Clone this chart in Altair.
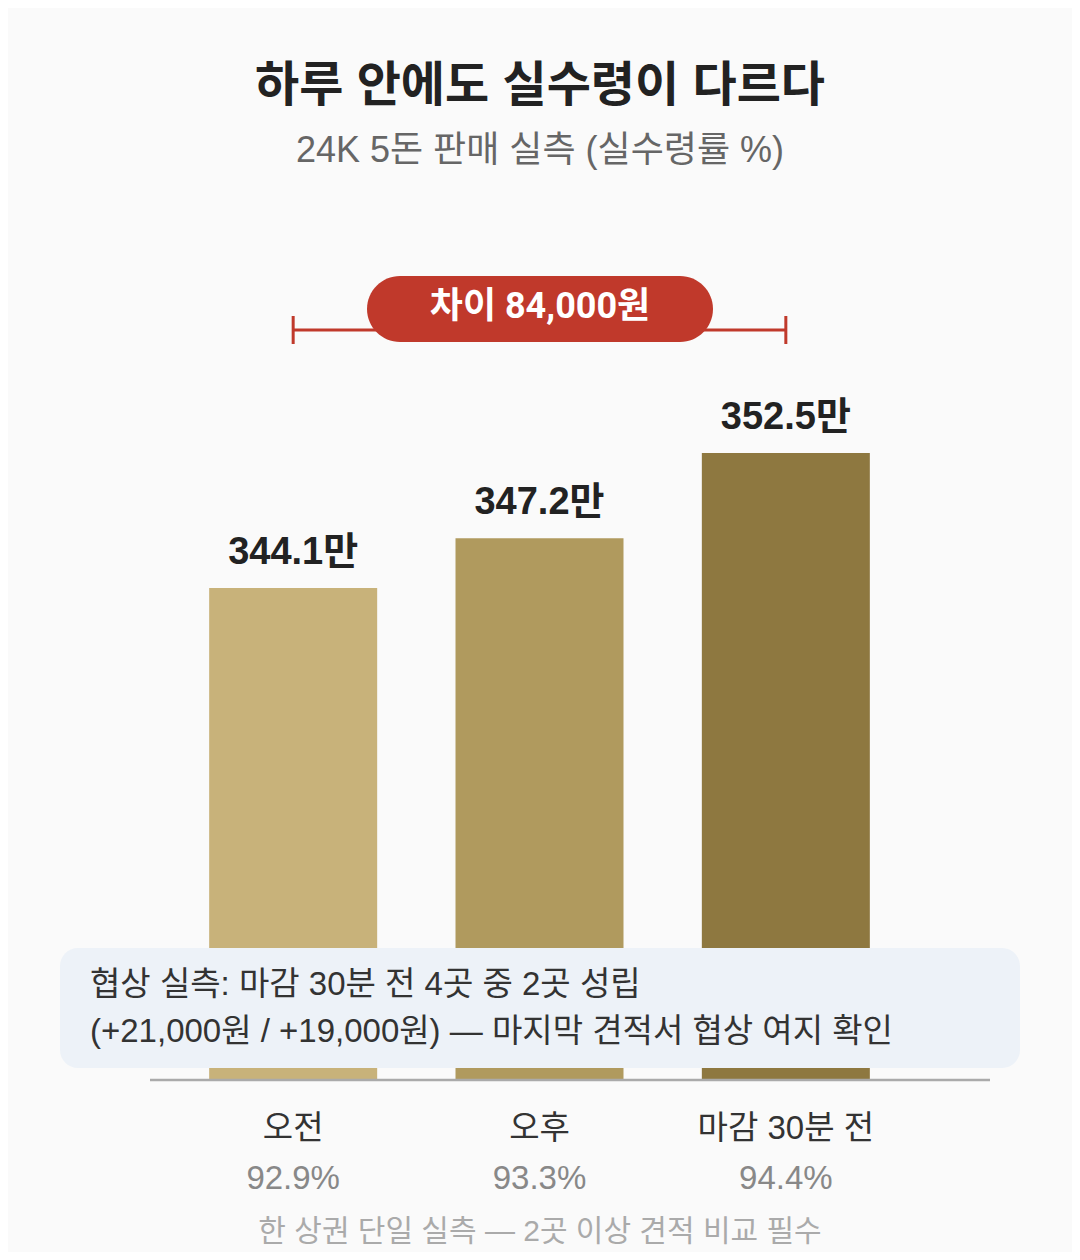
import altair as alt
import pandas as pd

# values
periods = ["오전", "오후", "마감 30분 전"]
prices = [344.1, 347.2, 352.5]          # 만원
price_labels = ["344.1만", "347.2만", "352.5만"]
rates = ["92.9%", "93.3%", "94.4%"]
bar_colors = ["#c8b27a", "#b09a5e", "#8e7840"]

title = "하루 안에도 실수령이 다르다"
subtitle = "24K 5돈 판매 실측 (실수령률 %)"
gap_label = "차이 84,000원"
note_lines = ["협상 실측: 마감 30분 전 4곳 중 2곳 성립",
              "(+21,000원 / +19,000원) — 마지막 견적서 협상 여지 확인"]
footer = "한 상권 단일 실측 — 2곳 이상 견적 비교 필수"

FONT = "Liberation Sans, Noto Sans CJK KR, sans-serif"
W, H = 1064, 1244
BASE = 313.5

df = pd.DataFrame({"period": periods, "price": prices, "label": price_labels,
                   "rate": rates, "color": bar_colors})
one = pd.DataFrame({"a": [0]})

x_scale = alt.Scale(domain=periods, range=[162, 901], paddingInner=0.318, paddingOuter=0.159)
x_enc = alt.X("period:N", scale=x_scale, axis=None)
y_scale = alt.Scale(domain=[BASE, 352.5], range=[1072, 445], zero=False, nice=False)

base = alt.Chart(df)

bars = base.mark_bar().encode(
    x=x_enc,
    y=alt.Y("price:Q", scale=y_scale, axis=None),
    y2=alt.datum(BASE),
    color=alt.Color("color:N", scale=None),
)

value_text = base.mark_text(font=FONT, fontSize=38, fontWeight="bold", color="#222222",
                            baseline="middle", dy=-35).encode(
    x=x_enc, y=alt.Y("price:Q", scale=y_scale, axis=None), text="label:N")

cat_text = base.mark_text(font=FONT, fontSize=33, color="#333333", baseline="middle").encode(
    x=x_enc, y=alt.value(1121), text="period:N")

rate_text = base.mark_text(font=FONT, fontSize=33, color="#888888", baseline="middle").encode(
    x=x_enc, y=alt.value(1171), text="rate:N")

baseline = alt.Chart(one).mark_rule(color="#aaaaaa", strokeWidth=2.5).encode(
    x=alt.value(142), x2=alt.value(982), y=alt.value(1072))

# note box over the bar feet
note_box = alt.Chart(one).mark_rect(fill="#edf2f8", cornerRadius=18).encode(
    x=alt.value(52), x2=alt.value(1012), y=alt.value(940), y2=alt.value(1060))

note_df = pd.DataFrame({"line": note_lines, "y": [977, 1024]})
note_text = alt.Chart(note_df).mark_text(font=FONT, fontSize=33, color="#333333",
                                         align="left", baseline="middle").encode(
    x=alt.value(82), y=alt.Y("y:Q", scale=None), text="line:N")

# bracket spanning first to last bar
bracket = alt.Chart(one).mark_rule(color="#c0392b", strokeWidth=3).encode(
    x=alt.X(datum=periods[0], type="nominal", scale=x_scale, axis=None),
    x2=alt.datum(periods[-1]),
    y=alt.value(322),
)
ticks = alt.Chart(pd.DataFrame({"period": [periods[0], periods[-1]]})).mark_rule(
    color="#c0392b", strokeWidth=3).encode(
    x=x_enc, y=alt.value(308), y2=alt.value(336))

pill = alt.Chart(one).mark_rect(fill="#c0392b", cornerRadius=33).encode(
    x=alt.value(359), x2=alt.value(705), y=alt.value(268), y2=alt.value(334))
pill_text = alt.Chart(pd.DataFrame({"t": [gap_label]})).mark_text(
    font="Roboto, Noto Sans CJK KR", fontSize=36, fontWeight="bold", color="white",
    baseline="middle").encode(x=alt.value(532), y=alt.value(299), text="t:N")

title_text = alt.Chart(pd.DataFrame({"t": [title]})).mark_text(
    font=FONT, fontSize=48, fontWeight="bold", color="#222222", baseline="middle").encode(
    x=alt.value(532), y=alt.value(79), text="t:N")
subtitle_text = alt.Chart(pd.DataFrame({"t": [subtitle]})).mark_text(
    font=FONT, fontSize=36, color="#666666", baseline="middle").encode(
    x=alt.value(532), y=alt.value(143), text="t:N")
footer_text = alt.Chart(pd.DataFrame({"t": [footer]})).mark_text(
    font=FONT, fontSize=30, color="#aaaaaa", baseline="middle").encode(
    x=alt.value(532), y=alt.value(1224), text="t:N")

chart = alt.layer(
    bars, baseline, note_box, note_text, value_text, cat_text, rate_text,
    bracket, ticks, pill, pill_text, title_text, subtitle_text, footer_text,
).properties(
    width=W, height=H, padding=0, autosize="none", background="#fafafa"
).configure_view(stroke=None)

chart.save("out.html", embed_options={"renderer": "svg", "actions": False})
